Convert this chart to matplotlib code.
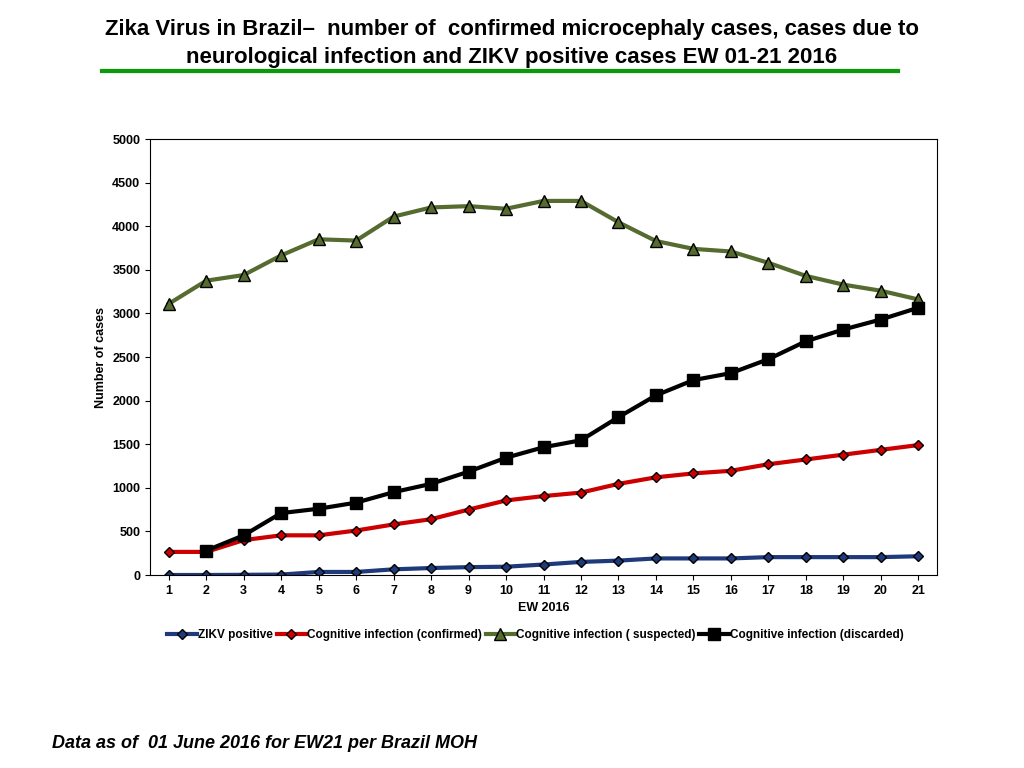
import matplotlib
matplotlib.use("Agg")
import matplotlib.pyplot as plt
import numpy as np

weeks = list(range(1, 22))
zikv = [0,0,2,5,35,35,65,80,90,95,120,150,165,190,190,190,205,205,205,205,215]
confirmed = [265,265,400,455,455,510,580,640,750,855,905,945,1045,1120,1165,1195,1270,1325,1380,1435,1490]
suspected = [3110,3375,3440,3665,3850,3835,4110,4215,4230,4200,4290,4290,4045,3830,3740,3710,3580,3430,3330,3260,3160]
disc_weeks = list(range(2, 22))
discarded = [280,455,710,760,830,950,1045,1185,1345,1465,1545,1810,2060,2235,2315,2475,2680,2815,2930,3065]

plt.rcParams['font.family'] = ['Liberation Sans', 'DejaVu Sans']
fig = plt.figure(figsize=(10.24, 7.68), dpi=100)
ax = fig.add_axes([150/1024, 1-575/768, 787/1024, 436/768])

ax.plot(weeks, zikv, color='#1f3a7a', lw=3, marker='D', ms=5, mfc='#1f3a7a', mec='black', label='ZIKV positive')
ax.plot(weeks, confirmed, color='#cc0000', lw=3, marker='D', ms=5, mfc='#cc0000', mec='black', label='Cognitive infection (confirmed)')
ax.plot(weeks, suspected, color='#556b2f', lw=3, marker='^', ms=9, mfc='#556b2f', mec='black', label='Cognitive infection ( suspected)')
ax.plot(disc_weeks, discarded, color='black', lw=3, marker='s', ms=8, mfc='black', label='Cognitive infection (discarded)')

ax.set_xlim(0.5, 21.5)
ax.set_ylim(0, 5000)
ax.set_xticks(weeks)
ax.set_yticks(range(0, 5001, 500))
ax.tick_params(labelsize=9, direction='out')
for lbl in ax.get_xticklabels() + ax.get_yticklabels():
    lbl.set_fontweight('bold')
ax.set_xlabel('EW 2016', fontsize=9, fontweight='bold')
ax.set_ylabel('Number of cases', fontsize=9, fontweight='bold')
ax.legend(loc='upper center', bbox_to_anchor=(0.49, -0.1), ncol=4, frameon=False,
          prop={'weight': 'bold', 'size': 8.5}, handlelength=2.5, columnspacing=0.3, handletextpad=0.1)

fig.text(0.5, 0.975, 'Zika Virus in Brazil\u2013  number of  confirmed microcephaly cases, cases due to\nneurological infection and ZIKV positive cases EW 01-21 2016',
         ha='center', va='top', fontsize=16, fontweight='bold', linespacing=1.4)
fig.add_artist(plt.Line2D([102/1024, 898/1024], [1-71/768]*2, color='#0a9a0a', lw=3))
fig.text(52/1024, 1-744/768, 'Data as of  01 June 2016 for EW21 per Brazil MOH', fontsize=13,
         fontweight='bold', fontstyle='italic', va='center')
fig.savefig('out.png', dpi=100)
